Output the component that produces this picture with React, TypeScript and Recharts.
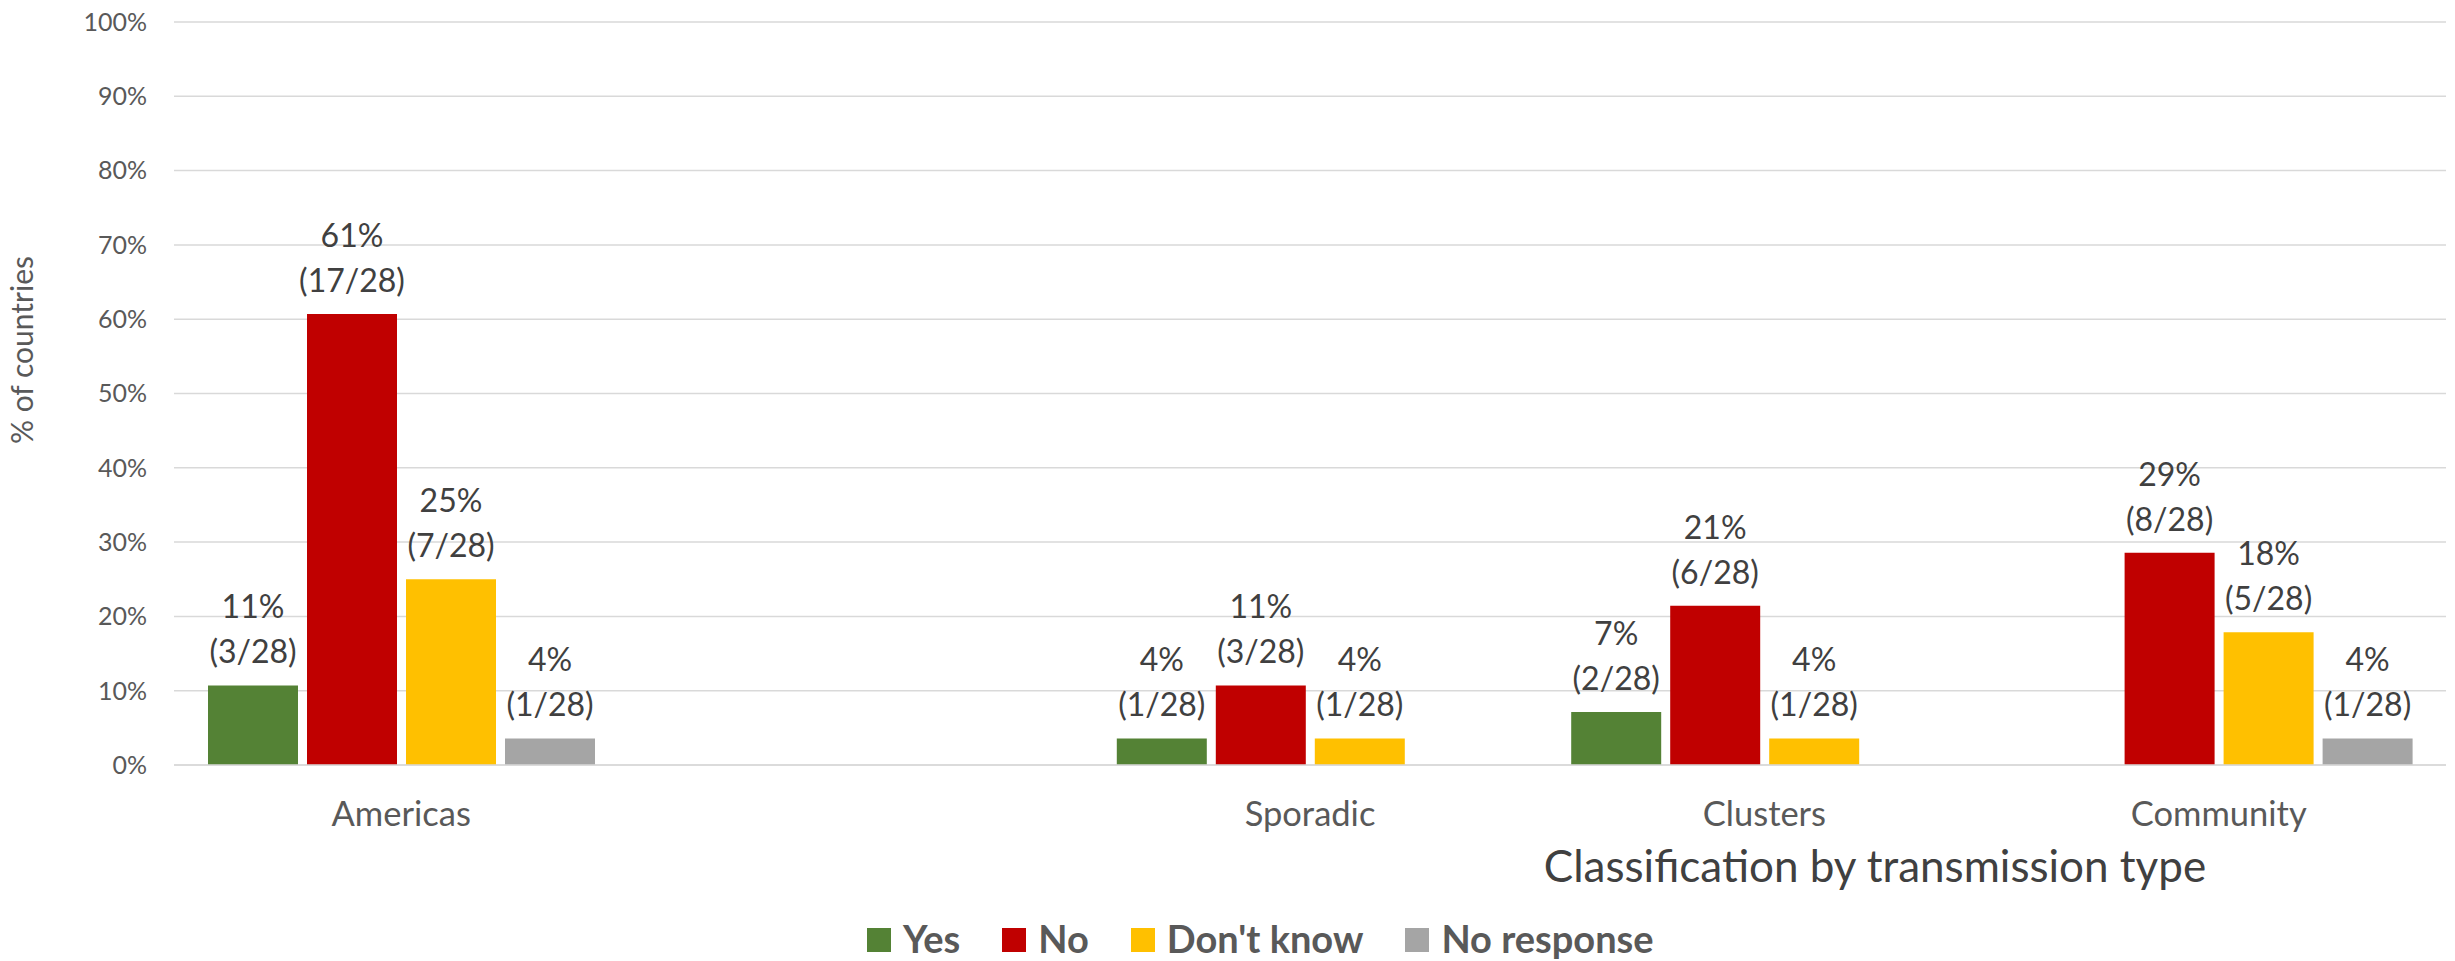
import React from 'react';
import { BarChart, Bar, XAxis, YAxis, CartesianGrid, Legend, LabelList } from 'recharts';

const TOTAL = 28;
const categories = ['Americas', '', 'Sporadic', 'Clusters', 'Community'];
const yesCounts: (number | null)[] = [3, null, 1, 2, 0];
const noCounts: (number | null)[] = [17, null, 3, 6, 8];
const dontKnowCounts: (number | null)[] = [7, null, 1, 1, 5];
const noResponseCounts: (number | null)[] = [1, null, 0, 0, 1];
const yTicks = [0, 10, 20, 30, 40, 50, 60, 70, 80, 90, 100];
const seriesNames = ['Yes', 'No', "Don't know", 'No response'];
const seriesColors = ['#548235', '#C00000', '#FFC000', '#A5A5A5'];
const xAxisTitle = 'Classification by transmission type';
const yAxisTitle = '% of countries';

const seriesCounts = [yesCounts, noCounts, dontKnowCounts, noResponseCounts];

const data = categories.map((cat, i) => {
  const row: Record<string, any> = { cat };
  seriesCounts.forEach((arr, s) => {
    const c = arr[i];
    row[`s${s}`] = c == null ? null : (c / TOTAL) * 100;
    row[`n${s}`] = c;
  });
  return row;
});

const FONT = 'Lato, "Open Sans", sans-serif';

const DataLabel = (props: any) => {
  const { x, y, width, value } = props;
  if (value == null || value === 0) return null;
  const cx = Number(x) + Number(width) / 2;
  const top = Number(y);
  const pct = Math.round((Number(value) / TOTAL) * 100);
  return (
    <text textAnchor="middle" fill="#404040" fontSize={32} fontFamily={FONT}>
      <tspan x={cx} y={top - 67}>{`${pct}%`}</tspan>
      <tspan x={cx} y={top - 22}>{`(${value}/${TOTAL})`}</tspan>
    </text>
  );
};

const XTitle = (props: any) => {
  const vb = props.viewBox || {};
  const x = Number(vb.x) + 1701;
  const y = Number(vb.y) + 117;
  return (
    <text x={x} y={y} textAnchor="middle" fill="#404040" fontSize={44} fontFamily={FONT}>
      {xAxisTitle}
    </text>
  );
};

const YTitle = (props: any) => {
  const vb = props.viewBox || {};
  const x = Number(vb.x) + 33;
  const y = Number(vb.y) + 328;
  return (
    <text x={x} y={y} textAnchor="middle" fill="#595959" fontSize={30} fontFamily={FONT} transform={`rotate(-90, ${x}, ${y})`}>
      {yAxisTitle}
    </text>
  );
};

const LegendContent = () => {
  return (
    <div style={{ display: 'flex', flexDirection: 'row', alignItems: 'flex-start', fontFamily: FONT, whiteSpace: 'nowrap' }}>
      {seriesNames.map((n, i) => (
        <div key={n} style={{ display: 'flex', alignItems: 'flex-start', marginRight: 42 }}>
          <div style={{ width: 24, height: 24, background: seriesColors[i], marginTop: 9, marginRight: 12 }} />
          <span style={{ fontSize: 38, lineHeight: '38px', fontWeight: 700, color: '#595959' }}>{n}</span>
        </div>
      ))}
    </div>
  );
};

export default function App() {
  return (
    <div style={{ position: 'absolute', left: 0, top: 0, width: 2455, height: 961, background: '#fff', overflow: 'hidden' }}>
      <BarChart
        width={2455}
        height={961}
        data={data}
        margin={{ top: 22, right: 9, left: 0, bottom: 96 }}
        barGap={9}
        barCategoryGap={34}
        style={{ fontFamily: FONT }}
      >
        <CartesianGrid vertical={false} stroke="#d9d9d9" strokeWidth={1.5} />
        <XAxis
          dataKey="cat"
          height={100}
          tickLine={false}
          tickSize={0}
          tickMargin={37}
          axisLine={{ stroke: '#d9d9d9', strokeWidth: 1.5 }}
          tick={{ fill: '#595959', fontSize: 34.5, fontFamily: FONT }}
          interval={0}
          label={<XTitle />}
        />
        <YAxis
          width={174}
          domain={[0, 100]}
          ticks={yTicks}
          interval={0}
          tickFormatter={(v: number) => `${v}%`}
          axisLine={false}
          tickLine={false}
          tickSize={0}
          tickMargin={27}
          tick={{ fill: '#595959', fontSize: 25, fontFamily: FONT }}
          label={<YTitle />}
        />
        <Legend
          layout="horizontal"
          verticalAlign="middle"
          align="center"
          itemSorter={null as any}
          wrapperStyle={{ position: 'absolute', top: 919, left: 867, width: 1400, height: 40, bottom: 'auto' }}
          content={<LegendContent />}
        />
        {seriesNames.map((name, s) => (
          <Bar key={name} dataKey={`s${s}`} name={name} fill={seriesColors[s]} isAnimationActive={false}>
            <LabelList dataKey={`n${s}`} content={<DataLabel />} />
          </Bar>
        ))}
      </BarChart>
    </div>
  );
}
